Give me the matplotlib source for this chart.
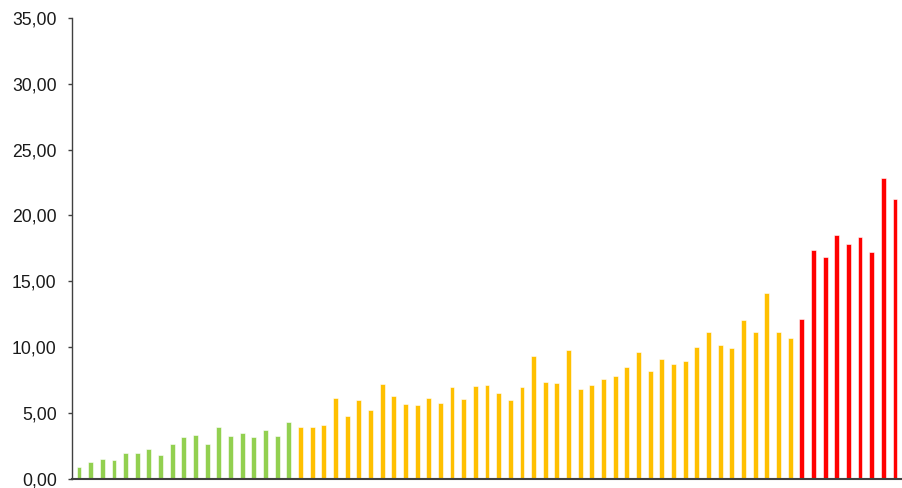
import matplotlib
matplotlib.use("Agg")
from matplotlib import pyplot as plt
import numpy as np

# valeurs
vert = [0.91, 1.22, 1.52, 1.44, 1.92, 1.92, 2.23, 1.82, 2.66, 3.14,
        3.27, 2.66, 3.95, 3.22, 3.44, 3.14, 3.65, 3.22, 4.26]
jaune = [3.88, 3.90, 4.05, 6.13, 4.73, 5.97, 5.22, 7.22, 6.28, 5.67,
         5.59, 6.13, 5.75, 6.96, 6.05, 7.04, 7.11, 6.51, 5.97, 6.96,
         9.34, 7.30, 7.24, 9.77, 6.81, 7.09, 7.57, 7.77, 8.48, 9.65,
         8.18, 9.09, 8.68, 8.94, 10.00, 11.16, 10.15, 9.95, 12.08, 11.16,
         14.08, 11.16, 10.68]
rouge = [12.14, 17.34, 16.86, 18.48, 17.85, 18.38, 17.24, 22.81, 21.22]

valeurs = vert + jaune + rouge
couleurs = ["#92D050"] * len(vert) + ["#FFC000"] * len(jaune) + ["#FF0000"] * len(rouge)
x = np.arange(len(valeurs))

plt.rcParams['font.family'] = ['Liberation Sans', 'DejaVu Sans']

fig = plt.figure(figsize=(9.03, 4.88), dpi=100)
ax = fig.add_axes([72 / 903, 1 - 478.5 / 488, 830 / 903, 460.5 / 488])

ax.bar(x, valeurs, width=0.42, color=couleurs, edgecolor="white", linewidth=0.4)

ax.set_xlim(-0.6, len(valeurs) - 0.4)
ax.set_ylim(0, 35)
ax.set_yticks(np.arange(0, 36, 5))
ax.set_yticklabels([f"{v:.2f}".replace(".", ",") for v in np.arange(0, 36, 5)])
ax.set_xticks([])

ax.spines["top"].set_visible(False)
ax.spines["right"].set_visible(False)
ax.spines["left"].set_color("#404040")
ax.spines["left"].set_linewidth(1.0)
ax.spines["bottom"].set_color("#404040")
ax.spines["bottom"].set_linewidth(1.5)
ax.tick_params(axis="y", length=3, width=1, color="#404040", pad=8,
               labelsize=12.7, labelcolor="#1a1a1a")

fig.savefig("out.png", dpi=100)
